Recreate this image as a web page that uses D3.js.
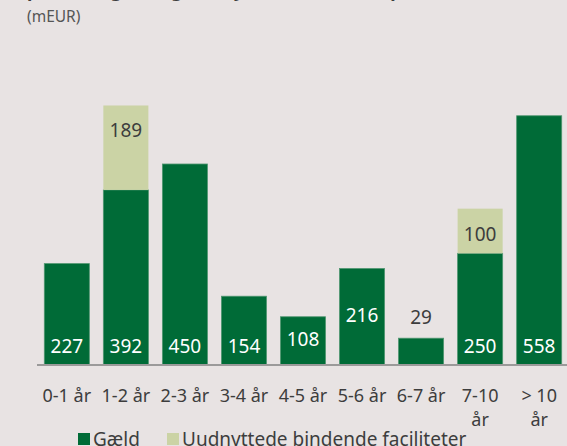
<!DOCTYPE html>
<html>
<head>
<meta charset="utf-8">
<script src="https://cdn.jsdelivr.net/npm/d3@7"></script>
<style>
  html, body { margin: 0; padding: 0; background: #e8e3e3; overflow: hidden; }
  svg { display: block; font-family: 'Noto Sans', sans-serif; }
</style>
</head>
<body>
<div id="chart"></div>
<script>
// maturity buckets
const categories = ['0-1 år', '1-2 år', '2-3 år', '3-4 år', '4-5 år', '5-6 år', '6-7 år', '7-10 år', '> 10 år'];
// debt (mEUR), bar heights as drawn in the picture
const debt = [227, 392, 450, 154, 108, 216, 60, 250, 558];
// debt value labels as printed
const debtLabels = ['227', '392', '450', '154', '108', '216', '29', '250', '558'];
// unused committed facilities (mEUR)
const facilities = [0, 189, 0, 0, 0, 0, 0, 100, 0];
// how the debt value label sits on the bar
const debtLabelMode = ['base', 'base', 'base', 'base', 'center', 'center', 'above', 'base', 'base'];
const yTicks = [0, 600];

const size = { width: 567, height: 446 };
const margin = { top: 97, bottom: 81 };

const colors = {
  debt: '#006b37',
  facility: '#cbd3a5',
  text: '#3d3d3d',
  axis: '#9b9a9a',
};

const svg = d3
  .select('#chart')
  .append('svg')
  .attr('width', size.width)
  .attr('height', size.height);

// title is clipped at the top of the crop, only descenders show
svg
  .append('text')
  .attr('x', 27)
  .attr('y', -3)
  .attr('font-size', '18px')
  .attr('font-weight', 'bold')
  .attr('fill', colors.text)
  .text('profil for gæld og uudnyttede faciliteter pr. løbetid');

svg
  .append('text')
  .attr('x', 27)
  .attr('y', 22)
  .attr('font-size', '15.5px')
  .attr('fill', '#555')
  .text('(mEUR)');

/*
  SCALES
*/
const x = d3
  .scaleBand()
  .domain(categories)
  .range([37.3, 568.7])
  .paddingInner(0.237)
  .paddingOuter(0.1185);

const y = d3
  .scaleLinear()
  .domain(d3.extent(yTicks))
  .range([size.height - margin.bottom, margin.top]);

const rows = categories.map((c, i) => ({
  cat: c,
  debt: debt[i],
  label: debtLabels[i],
  fac: facilities[i],
  mode: debtLabelMode[i],
}));

const bars = svg.selectAll('g.bar').data(rows).join('g').attr('class', 'bar');

bars
  .append('rect')
  .attr('x', (d) => x(d.cat))
  .attr('y', (d) => y(d.debt))
  .attr('width', x.bandwidth())
  .attr('height', (d) => y(0) - y(d.debt))
  .attr('fill', colors.debt)
  .attr('stroke', '#4f9670')
  .attr('stroke-width', 0.8);

bars
  .filter((d) => d.fac > 0)
  .append('rect')
  .attr('x', (d) => x(d.cat))
  .attr('y', (d) => y(d.debt + d.fac))
  .attr('width', x.bandwidth())
  .attr('height', (d) => y(d.debt) - y(d.debt + d.fac))
  .attr('fill', colors.facility);

// debt labels
bars
  .append('text')
  .attr('x', (d) => x(d.cat) + x.bandwidth() / 2)
  .attr('y', (d) => {
    if (d.mode === 'above') return y(d.debt) - 14;
    if (d.mode === 'center') return (y(d.debt) + y(0)) / 2 + 5;
    return y(0) - 12;
  })
  .attr('text-anchor', 'middle')
  .attr('font-size', '19px')
  .attr('fill', (d) => (d.mode === 'above' ? colors.text : '#fff'))
  .text((d) => d.label);

// facility labels
bars
  .filter((d) => d.fac > 0)
  .append('text')
  .attr('x', (d) => x(d.cat) + x.bandwidth() / 2)
  .attr('y', (d) => y(d.debt + d.fac) + 32)
  .attr('text-anchor', 'middle')
  .attr('font-size', '19px')
  .attr('fill', colors.text)
  .text((d) => d.fac);

// x axis
const xAxis = svg
  .append('g')
  .attr('transform', `translate(0, ${y(0)})`)
  .call(d3.axisBottom(x).tickSize(0).tickPadding(0));

xAxis.select('.domain').remove();
xAxis
  .append('line')
  .attr('x1', 37)
  .attr('x2', size.width)
  .attr('stroke', colors.axis)
  .attr('stroke-width', 2);

xAxis.selectAll('.tick text').remove();
xAxis
  .selectAll('.tick')
  .append('text')
  .attr('text-anchor', 'middle')
  .attr('font-size', '18px')
  .attr('fill', colors.text)
  .attr('font-family', "'Noto Sans', sans-serif")
  .each(function (d) {
    // wrap long labels like the original
    const parts = d.length > 6 ? [d.replace(' år', ''), 'år'] : [d];
    const t = d3.select(this);
    parts.forEach((p, i) => {
      t.append('tspan')
        .attr('x', 0)
        .attr('y', 37 + i * 24)
        .text(p);
    });
  });

// legend
const legendItems = [
  { label: 'Gæld', color: colors.debt, x: 78 },
  { label: 'Uudnyttede bindende faciliteter', color: colors.facility, x: 167 },
];

const legend = svg.selectAll('g.legend').data(legendItems).join('g').attr('class', 'legend');

legend
  .append('rect')
  .attr('x', (d) => d.x)
  .attr('y', 433)
  .attr('width', 12)
  .attr('height', 12)
  .attr('fill', (d) => d.color);

legend
  .append('text')
  .attr('x', (d) => d.x + 15)
  .attr('y', 446)
  .attr('font-size', '19px')
  .attr('fill', colors.text)
  .text((d) => d.label);
</script>
</body>
</html>
